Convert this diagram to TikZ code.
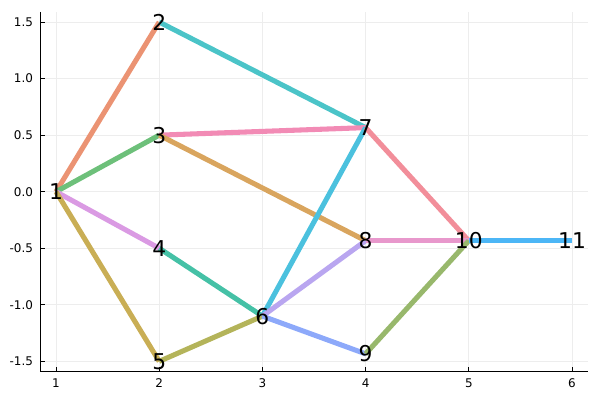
\documentclass[tikz,border=0pt]{standalone}
\usepackage{fontspec}
\setmainfont{DejaVu Sans}
\usepackage{xcolor}
\usetikzlibrary{backgrounds}
\definecolor{salmO}{HTML}{EB9373}
\definecolor{leafG}{HTML}{6DC07A}
\definecolor{lilaV}{HTML}{DA9AE3}
\definecolor{goldY}{HTML}{C9AE55}
\definecolor{tealC}{HTML}{4BC4C8}
\definecolor{rosaP}{HTML}{F28BB5}
\definecolor{ochrB}{HTML}{D9A55E}
\definecolor{mintT}{HTML}{45C1A6}
\definecolor{oliv}{HTML}{B4B45A}
\definecolor{skyC}{HTML}{4BC1DE}
\definecolor{lavV}{HTML}{B9A6F0}
\definecolor{bluP}{HTML}{8DA9FA}
\definecolor{coraR}{HTML}{F28E9A}
\definecolor{orchP}{HTML}{E898CC}
\definecolor{mossG}{HTML}{98B86C}
\definecolor{azurB}{HTML}{4CB6F6}
\definecolor{gridc}{HTML}{EDEDED}

\begin{document}
\begin{tikzpicture}[x=2.58cm, y=2.8275cm,
  edge/.style={line width=3.6pt},
  vlab/.style={font=\fontsize{15.5}{15.5}\selectfont, inner sep=0pt},
  tlab/.style={font=\fontsize{8.5}{8.5}\selectfont}]
  \useasboundingbox (0.4574,-1.8417) rectangle (6.2713,1.6950);
  \def\xl{0.845}
  \def\xr{6.155}
  \def\yb{-1.5915}
  \def\yt{1.589}
  % vertices
  \foreach \n/\x/\y in {1/1/0, 2/2/1.5, 3/2/0.5, 4/2/-0.5, 5/2/-1.5,
    6/3/-1.1, 7/4/0.5667, 8/4/-0.4333, 9/4/-1.4333, 10/5/-0.4333, 11/6/-0.4333}{
    \node[vlab] (v\n) at (\x,\y) {\n};
  }
  \begin{scope}[on background layer]
    % grid
    \foreach \x in {1,...,6}
      \draw[gridc, line width=0.7pt] (\x,\yb) -- (\x,\yt);
    \foreach \y in {-1.5,-1.0,-0.5,0.0,0.5,1.0,1.5}
      \draw[gridc, line width=0.7pt] (\xl,\y) -- (\xr,\y);
    % edges
    \foreach \a/\b/\c in {1/2/salmO, 1/3/leafG, 1/4/lilaV, 1/5/goldY,
      2/7/tealC, 3/7/rosaP, 3/8/ochrB, 4/6/mintT, 5/6/oliv, 6/7/skyC,
      6/8/lavV, 6/9/bluP, 7/10/coraR, 8/10/orchP, 9/10/mossG, 10/11/azurB}{
      \draw[edge, \c] (v\a.center) -- (v\b.center);
    }
  \end{scope}
  % axes
  \draw[line width=0.7pt] (\xl,\yt) -- (\xl,\yb) -- (\xr,\yb);
  \foreach \x in {1,...,6}{
    \draw[line width=0.7pt] (\x,\yb) -- ++(0,0.045);
    \node[tlab, anchor=north] at (\x,\yb-0.02) {\x};
  }
  \foreach \y in {-1.5,-1.0,-0.5,0.0,0.5,1.0,1.5}{
    \draw[line width=0.7pt] (\xl,\y) -- ++(0.05,0);
    \node[tlab, anchor=east] at (\xl-0.02,\y) {\y};
  }
\end{tikzpicture}
\end{document}
